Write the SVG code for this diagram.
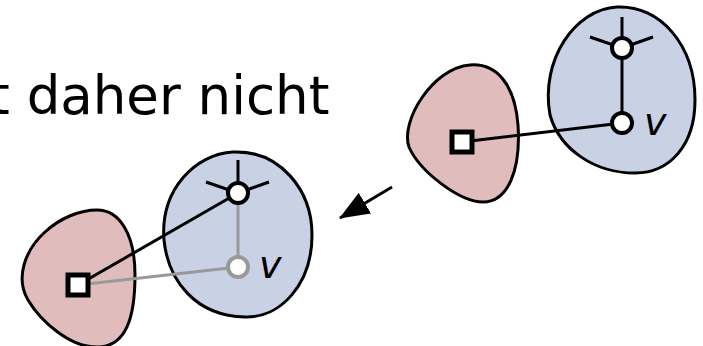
<svg xmlns="http://www.w3.org/2000/svg" width="703" height="346" viewBox="0 0 703 346">
<defs>
<style>
.red{fill:#e0bcbd;stroke:#000;stroke-width:3}
.blue{fill:#c9d1e5;stroke:#000;stroke-width:3}
.e{stroke:#000;stroke-width:3;fill:none}
.g{stroke:#999;stroke-width:3;fill:none}
.v{fill:#fff;stroke:#000;stroke-width:4}
.vg{fill:#fff;stroke:#999;stroke-width:4}
.sq{fill:#fff;stroke:#000;stroke-width:5}
.lbl{font-family:"DejaVu Sans",sans-serif;font-style:italic;font-size:38px;fill:#000}
.txt{font-family:"DejaVu Sans",sans-serif;font-size:53px;fill:#000}
</style>
<marker id="ah2" viewBox="0 0 30 24" refX="29" refY="12" markerWidth="30" markerHeight="24" markerUnits="userSpaceOnUse" orient="auto">
<path d="M0,0 L30,12 L0,24 Z" fill="#000"/>
</marker>
</defs>
<text class="txt" x="-11" y="114">t daher nicht</text>
<g id="top-red"><path class="red" d="M470,65 C497,63 515,85 518,125 C521,170 508,202 483,202 C460,202 420,172 409,147 C400,122 432,68 470,65 Z"/></g>
<g id="top-blue"><path class="blue" d="M617,7 C660,5 695,45 695,100 C695,145 670,173 635,173 C595,173 560,150 550,115 C540,60 575,9 617,7 Z"/></g>
<g id="bot-red"><path class="red" d="M97,210 C120,210 135,235 135,275 C135,320 125,345 100,347 C70,349 40,320 28,300 C15,278 25,250 45,232 C60,218 80,210 97,210 Z"/></g>
<g id="bot-blue"><path class="blue" d="M233,152 C280,150 312,190 312,235 C312,285 280,318 245,317 C195,316 168,280 164,240 C160,190 195,154 233,152 Z"/></g>
<g id="connectors">
<line class="e" x1="462" y1="142" x2="622" y2="123"/>
<line class="e" x1="622" y1="48" x2="622" y2="123"/>
<line class="e" x1="622" y1="48" x2="622" y2="17"/>
<line class="e" x1="622" y1="48" x2="590" y2="37"/>
<line class="e" x1="622" y1="48" x2="653" y2="37"/>
<line class="g" x1="78" y1="285" x2="238" y2="267"/>
<line class="g" x1="238" y1="193" x2="238" y2="267"/>
<line class="e" x1="78" y1="285" x2="238" y2="193"/>
<line class="e" x1="238" y1="193" x2="238" y2="160"/>
<line class="e" x1="238" y1="193" x2="206" y2="182"/>
<line class="e" x1="238" y1="193" x2="269" y2="182"/>
<line class="e" x1="392" y1="187" x2="340" y2="218" marker-end="url(#ah2)"/>
</g>
<g id="top-square"><rect class="sq" x="452" y="132" width="20" height="20"/></g>
<g id="top-u"><circle class="v" cx="622" cy="48" r="10"/></g>
<g id="top-v"><circle class="v" cx="622" cy="123" r="10"/><text class="lbl" x="644" y="135">v</text></g>
<g id="bot-square"><rect class="sq" x="68" y="275" width="20" height="20"/></g>
<g id="bot-u"><circle class="v" cx="238" cy="193" r="10"/></g>
<g id="bot-v"><circle class="vg" cx="238" cy="267" r="10"/><text class="lbl" x="259" y="278">v</text></g>
</svg>
